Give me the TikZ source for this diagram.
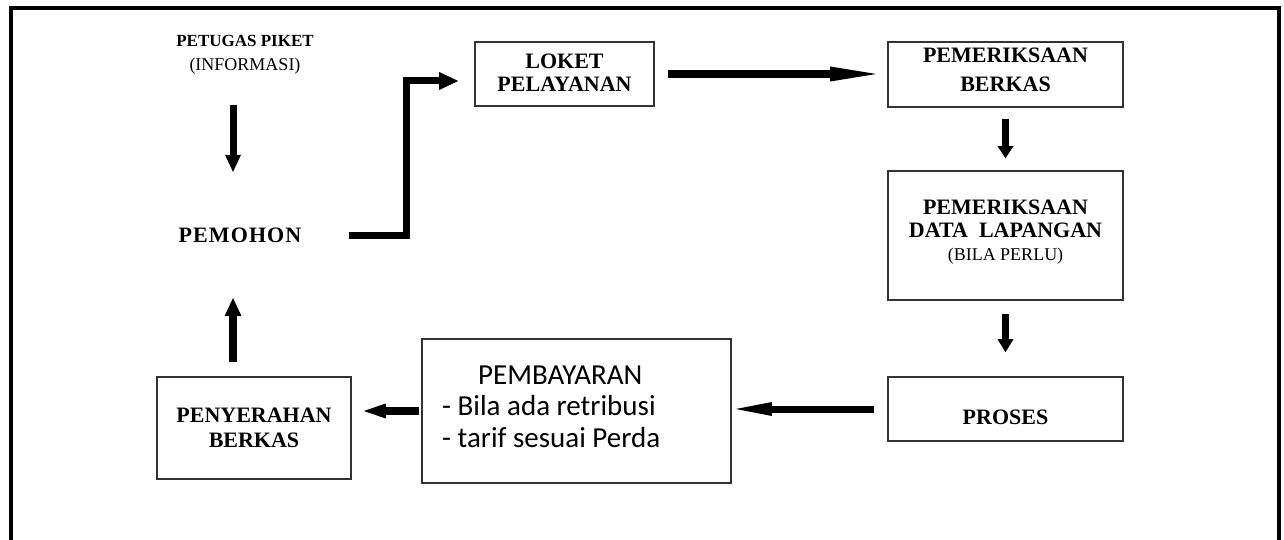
\documentclass[tikz,border=0pt]{standalone}
\usepackage{fontspec}
\usetikzlibrary{arrows.meta}
\newfontfamily\timesw{Liberation Serif}
\newfontfamily\calibri{Carlito}

\tikzset{
  box/.style={rectangle, draw=black!80, line width=1.6pt, inner sep=0pt},
  capt/.style={inner sep=0pt, align=center,
    font=\timesw\bfseries\fontsize{22}{23.5}\selectfont},
  fat/.style={line width=7pt, line join=miter},
  tipshort/.style={-{Triangle[length=17pt,width=16pt,line width=0pt]}},
  tiplong/.style={-{Triangle[length=46pt,width=15pt,line width=0pt]}},
  tipmid/.style={-{Triangle[length=36pt,width=14pt,line width=0pt]}},
}

\begin{document}
\begin{tikzpicture}[x=1pt, y=-1pt]
  \useasboundingbox (0,0) rectangle (1284,540);
  \fill[white] (0,0) rectangle (1284,540);

  % open frame round the chart
  \draw[line width=4.5pt, line join=miter] (11,545) -- (11,8) -- (1279,8) -- (1279,545);

  % guide lines for the left column arrows and the bend
  \coordinate (axis) at (233,0);
  \coordinate (bend) at (406,0);

  % boxes
  \node[box, minimum width=179pt, minimum height=64pt]  (loket)    at (564.5,74)   {};
  \node[box, minimum width=235pt, minimum height=65pt]  (berkas)   at (1005.5,74.5) {};
  \node[box, minimum width=235pt, minimum height=129pt] (lapangan) at (1005.5,235.5) {};
  \node[box, minimum width=235pt, minimum height=64pt]  (proses)   at (1005.5,409)  {};
  \node[box, minimum width=309pt, minimum height=144pt] (bayar)    at (576.5,411)   {};
  \node[box, minimum width=194pt, minimum height=102pt] (serah)    at (254,428)     {};

  % texts
  \node[capt, font=\timesw\bfseries\fontsize{17}{24}\selectfont] (piket) at (245,55)
    {PETUGAS PIKET\\{\mdseries\fontsize{18}{24}\selectfont (INFORMASI)}};
  \node[capt, font=\timesw\bfseries\addfontfeature{LetterSpace=5}\fontsize{22}{23}\selectfont]
    (pemohon) at (240,235.5) {PEMOHON};
  \node[capt] (lokett) at (564.5,72.5) {LOKET\\PELAYANAN};
  \node[capt, font=\timesw\bfseries\fontsize{22}{29}\selectfont] (berkast) at (1005.5,70) {PEMERIKSAAN\\BERKAS};
  \node[capt, font=\timesw\bfseries\fontsize{22}{23}\selectfont] (lapangant) at (1005.5,232)
    {PEMERIKSAAN\\DATA~~LAPANGAN\\{\mdseries\fontsize{18}{23}\selectfont (BILA PERLU)}};
  \node[capt] (prosest) at (1005.5,417) {PROSES};
  \node[capt, font=\timesw\bfseries\fontsize{22}{25}\selectfont] (serahtx) at (254,428) {PENYERAHAN\\BERKAS};
  \node[inner sep=0pt, anchor=west, align=left, font=\calibri\fontsize{29}{31.5}\selectfont]
    (bayart) at (442,406.5) {\hspace*{36pt}PEMBAYARAN\\- Bila ada retribusi\\- tarif sesuai Perda};

  % connectors
  \coordinate (lk) at ([yshift=-7pt]loket.west);
  \draw[fat, tipshort, shorten <=30pt, shorten >=56pt] (piket.south -| axis) -- (pemohon.north -| axis);
  \draw[fat, -{Triangle[length=19pt,width=18pt,line width=0pt]}, shorten <=47pt, shorten >=16pt]
    (pemohon.east) -- (pemohon.east -| bend) -- (bend |- lk) -- (lk);
  \draw[line width=8pt, tiplong, shorten <=13pt, shorten >=11pt] (loket.east) -- (loket.east -| berkas.west);
  \draw[fat, -{Triangle[length=12pt,width=16pt,line width=0pt]}, shorten <=11pt, shorten >=12pt]
    (berkas.south) -- (lapangan.north);
  \draw[fat, -{Triangle[length=13pt,width=16pt,line width=0pt]}, shorten <=13pt, shorten >=24pt]
    (lapangan.south) -- (proses.north);
  \draw[fat, tipmid, shorten <=13pt, shorten >=4pt] (proses.west) -- (proses.west -| bayar.east);
  \draw[line width=8pt, -{Triangle[length=22pt,width=15pt,line width=0pt]}, shorten <=2pt, shorten >=12pt]
    (bayar.west) -- (bayar.west -| serah.east);
  \draw[line width=8pt, -{Triangle[length=18pt,width=17pt,line width=0pt]}, shorten <=14pt, shorten >=55pt]
    (serah.north -| axis) -- (pemohon.south -| axis);
\end{tikzpicture}
\end{document}
